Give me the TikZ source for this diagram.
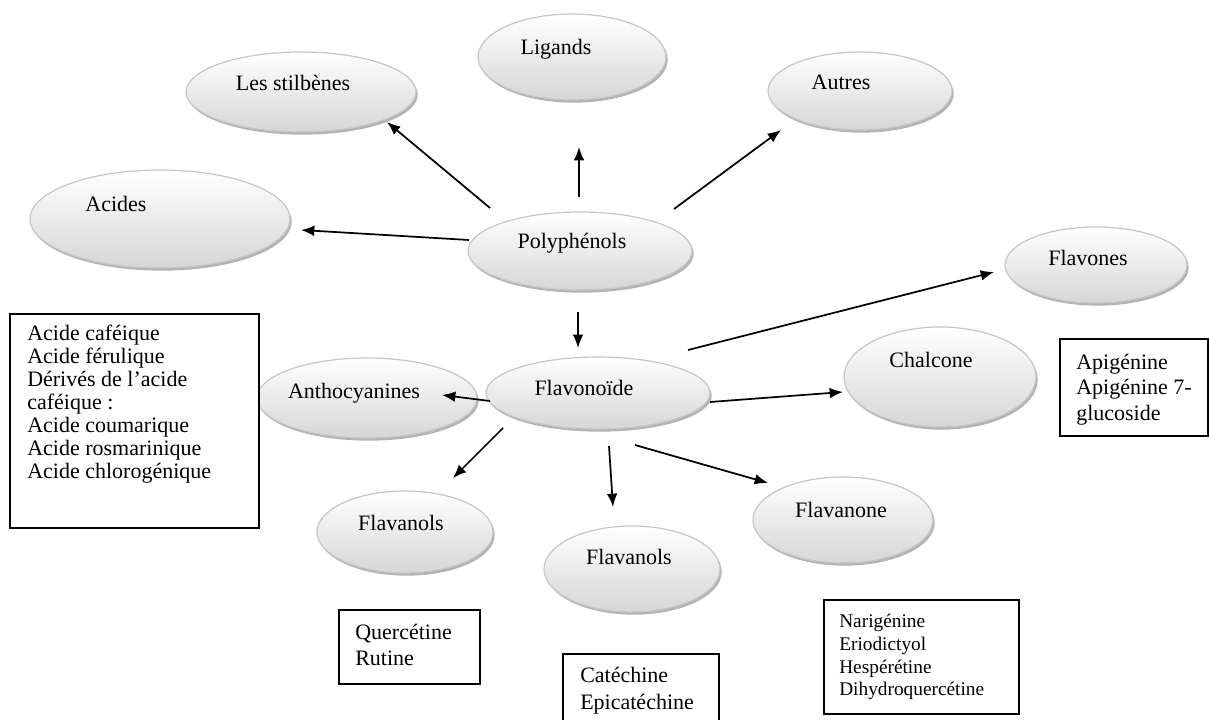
\documentclass[tikz,border=0pt]{standalone}
\usepackage{fontspec}
\setmainfont{Liberation Serif}
\usetikzlibrary{positioning,calc,shapes.geometric,shadows,arrows.meta}
\tikzset{bubble/.style={ellipse, draw=gray!45, line width=0.9pt, top color=white, bottom color=black!16, inner sep=0pt, drop shadow={shadow xshift=1.3pt, shadow yshift=-2pt, fill=black!50, opacity=0.6}}}
\tikzset{bub/.style 2 args={bubble, minimum width=#1*1.5pt, minimum height=#2*1.5pt}}
\tikzset{lbl/.style={inner sep=0pt, text height=11pt, text depth=3.5pt, font=\fontsize{16.5}{17}\selectfont}}
\tikzset{lbox/.style 2 args={draw, line width=1.2pt, fill=white, anchor=north west, inner sep=0pt, minimum width=#1*0.75pt, minimum height=#2*0.75pt}}
\tikzset{ltxt/.style={anchor=north west, inner sep=0pt, align=left}}
\tikzset{arr/.style={draw, -{Latex[length=10pt,width=8pt]}, line width=1.3pt}}

\begin{document}
\begin{tikzpicture}[x=0.75pt, y=-0.75pt]
		\useasboundingbox (0,0) rectangle (1209,720);
		% ellipses
		\node[bub={94}{43}] (lig) at (572,57) {};
		\node[bub={115}{40}] (stilb) at (301,92) {};
		\node[bub={92}{39}] (autres) at (860,91) {};
		\node[bub={130}{49}] (acides) at (160,219) {};
		\node[bub={112}{39}] (poly) at (580,251) {};
		\node[bub={91}{38}] (flavones) at (1096,265) {};
		\node[bub={110}{40}] (antho) at (367,398) {};
		\node[bub={112}{36}] (flavo) at (598,393) {};
		\node[bub={96}{50}] (chalc) at (940,377) {};
		\node[bub={88}{41}] (flA) at (405,532) {};
		\node[bub={88}{43}] (flB) at (632,569) {};
		\node[bub={90}{43}] (flvn) at (843,520) {};

		\node[lbl] (tLig) at (556,50) {Ligands};
		\node[lbl] (tStilb) at (293,86) {Les stilbènes};
		\node[lbl] (tAutres) at (841,85) {Autres};
		\node[lbl] (tAcides) at (116,207) {Acides};
		\node[lbl] (tPoly) at (572,243) {Polyphénols};
		\node[lbl] (tFlavones) at (1088,260) {Flavones};
		\node[lbl] (tAntho) at (354,393) {Anthocyanines};
		\node[lbl] (tFlavo) at (584,390) {Flavonoïde};
		\node[lbl] (tChalc) at (931,362) {Chalcone};
		\node[lbl] (tFlA) at (401,525) {Flavanols};
		\node[lbl] (tFlB) at (629,559) {Flavanols};
		\node[lbl] (tFlvn) at (841,512) {Flavanone};

		% boxes
		\node[lbox={249}{214}] (bAc) at (9,313) {};
		\node[ltxt, font=\fontsize{16.5}{17.25}\selectfont] (tAc) at (27,325) {Acide caféique\\Acide férulique\\Dérivés de l’acide\\caféique :\\Acide coumarique\\Acide rosmarinique\\Acide chlorogénique};
		\node[lbox={148}{97}] (bApi) at (1059,338) {};
		\node[ltxt, font=\fontsize{16.5}{19}\selectfont] (tApi) at (1076,354) {Apigénine\\Apigénine 7-\\glucoside};
		\node[lbox={141}{74}] (bQuer) at (338,609) {};
		\node[ltxt, font=\fontsize{16.5}{19.5}\selectfont] (tQuer) at (355,624) {Quercétine\\Rutine};
		\node[lbox={156}{90}] (bCat) at (562,653) {};
		\node[ltxt, font=\fontsize{16.5}{20}\selectfont] (tCat) at (580,667) {Catéchine\\Epicatéchine};
		\node[lbox={195}{114}] (bNari) at (823,599) {};
		\node[ltxt, font=\fontsize{14.5}{17}\selectfont] (tNari) at (839,614) {Narigénine\\Eriodictyol\\Hespérétine\\Dihydroquercétine};

		% arrows
		\draw[arr] ($(poly)+(-111,-11)$) -- ($(acides)+(141,11)$);
		\draw[arr] ($(poly)+(-90,-43)$) -- ($(stilb)+(86,30)$);
		\draw[arr] ($(poly)+(-1,-54)$) -- ($(lig)+(7,90)$);
		\draw[arr] ($(poly)+(94,-42)$) -- ($(autres)+(-79,39)$);
		\draw[arr] ($(poly)+(-2,61)$) -- ($(flavo)+(-20,-45)$);
		\draw[arr] ($(flavo)+(90,-43)$) -- ($(flavones)+(-102,7)$);
		\draw[arr] ($(flavo)+(-108,8)$) -- ($(antho)+(75,-3)$);
		\draw[arr] ($(flavo)+(112,9)$) -- ($(chalc)+(-97,15)$);
		\draw[arr] ($(flavo)+(-95,35)$) -- ($(flA)+(48,-54)$);
		\draw[arr] ($(flavo)+(11,53)$) -- ($(flB)+(-19,-62)$);
		\draw[arr] ($(flavo)+(37,52)$) -- ($(flvn)+(-75,-37)$);
	\end{tikzpicture}
\end{document}
